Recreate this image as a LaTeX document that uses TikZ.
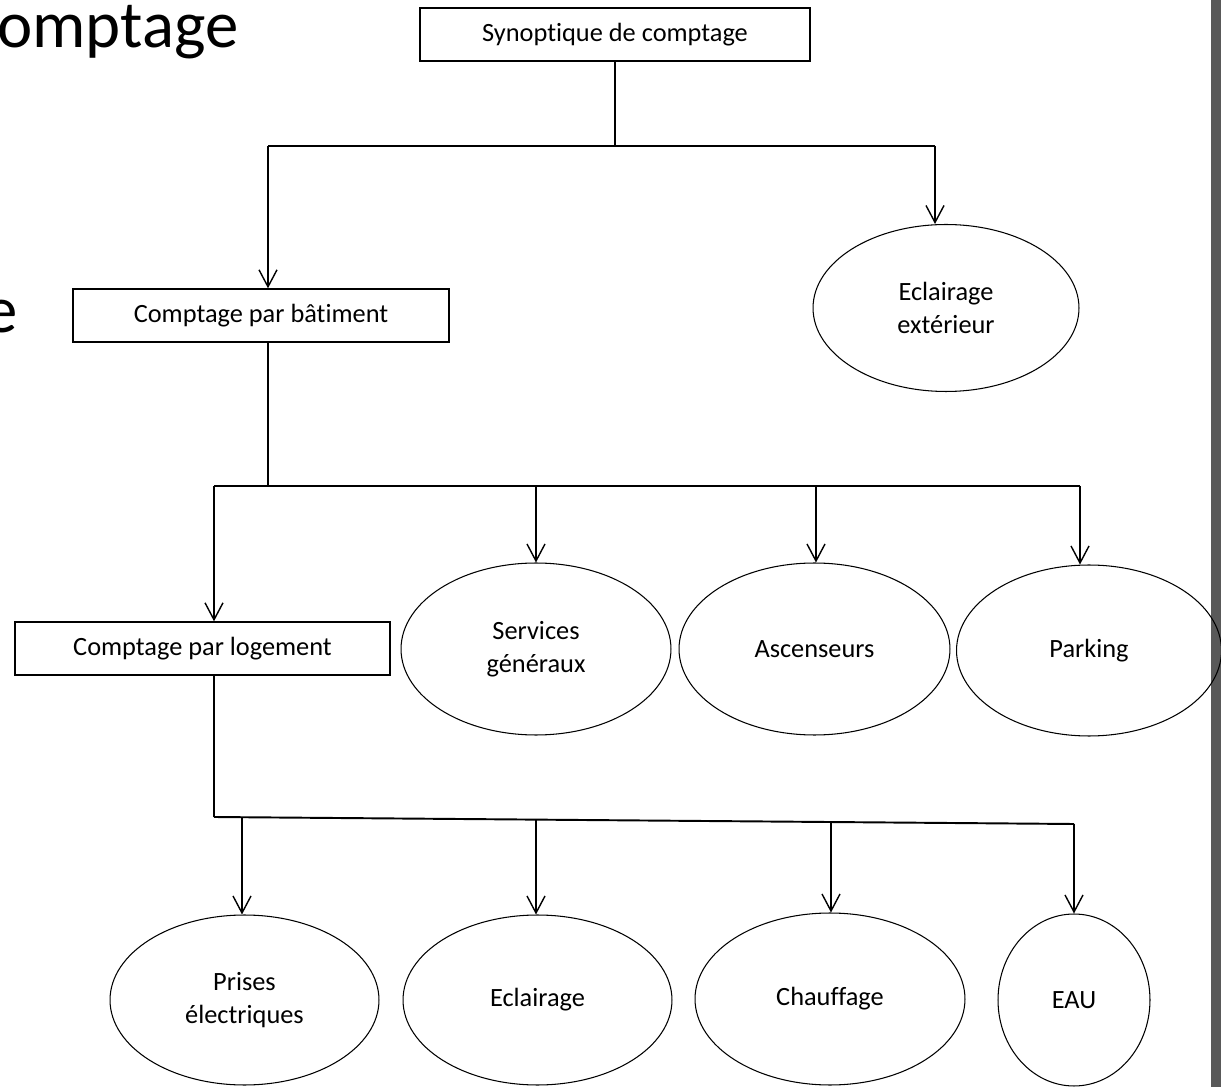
\documentclass[tikz,border=0pt]{standalone}
\usepackage{fontspec}
\setmainfont{Carlito}[Ligatures=NoCommon]
\usetikzlibrary{shapes.geometric, arrows.meta}

\definecolor{barGray}{HTML}{595959}
\newcommand{\diagfont}{\fontsize{15}{18.5}\selectfont}
\newcommand{\slidefont}{\fontsize{38}{44}\selectfont}

\begin{document}
\begin{tikzpicture}[
  x=0.02cm, y=-0.02cm,
  box/.style={rectangle, draw, line width=0.8pt, minimum height=1.06cm, inner sep=0pt, font=\diagfont},
  oval/.style={ellipse, draw, line width=0.6pt, inner sep=0pt, align=center, font=\diagfont},
  wire/.style={line width=1.1pt},
  arrow/.style={-{Straight Barb[length=3.4mm, width=3.6mm]}, line width=0.8pt},
  slide/.style={anchor=base west, inner sep=0pt, font=\slidefont}
]
\useasboundingbox (0,0) rectangle (1221,1087);

% Slide text cut by the page edge
\node[slide] (slideTitle) at (-3,48) {omptage};
\node[slide] (slideLine) at (-16,333) {e};

% Gray bar on the right
\fill[barGray] (1211,0) rectangle (1221,1087);

% Level 1
\node[box, minimum width=7.8cm] (syn) at (615,34.5) {Synoptique de comptage};
\node[box, minimum width=7.52cm] (bat) at (261,315.5) {Comptage par bâtiment};
\node[oval, minimum width=5.32cm, minimum height=3.34cm] (ext) at (946,308) {Eclairage\\extérieur};

% Bus under the synoptic box
\coordinate (busAL) at (268,146);
\coordinate (busAR) at (935,146);
\draw[wire] (syn.south) -- (syn.south |- busAL);
\draw[wire] (busAL) -- (busAR);
\draw[arrow] (busAL) -- (busAL |- bat.north);
\draw[arrow] (busAR) -- (busAR |- ext.north);

% Level 2
\node[box, minimum width=7.5cm] (log) at (202.5,648.5) {Comptage par logement};
\node[oval, minimum width=5.4cm, minimum height=3.44cm] (serv) at (536,649) {Services\\généraux};
\node[oval, minimum width=5.42cm, minimum height=3.44cm] (asc) at (814.5,649) {Ascenseurs};
\node[oval, minimum width=5.3cm, minimum height=3.42cm] (park) at (1089,650.5) {Parking};

% Bus under the building box
\coordinate (busBM) at (268,486);
\coordinate (busBL) at (214,486);
\coordinate (busBR) at (1080,486);
\coordinate (busB1) at (536,486);
\coordinate (busB2) at (816,486);
\draw[wire] (busBM |- bat.south) -- (busBM);
\draw[wire] (busBL) -- (busBR);
\draw[arrow] (busBL) -- (busBL |- log.north);
\draw[arrow] (busB1) -- (busB1 |- serv.north);
\draw[arrow] (busB2) -- (busB2 |- asc.north);
\draw[arrow] (busBR) -- (busBR |- park.north);

% Level 3
\node[oval, minimum width=5.38cm, minimum height=3.4cm] (prises) at (244.5,1000) {Prises\\électriques};
\node[oval, minimum width=5.38cm, minimum height=3.4cm] (ecl) at (537.5,1000) {Eclairage};
\node[oval, minimum width=5.4cm, minimum height=3.44cm] (chauf) at (830,999) {Chauffage};
\node[oval, minimum width=3.04cm, minimum height=3.44cm] (eau) at (1074,1000) {EAU};

% Bus under the dwelling box (slightly tilted)
\coordinate (busCL) at (214,817);
\coordinate (busCR) at (1074,824);
\coordinate (busC1) at (242,817.2);
\coordinate (busC2) at (536,819.6);
\coordinate (busC3) at (831,822);
\draw[wire] (busCL |- log.south) -- (busCL);
\draw[wire] (busCL) -- (busCR);
\draw[arrow] (busC1) -- (busC1 |- prises.north);
\draw[arrow] (busC2) -- (busC2 |- ecl.north);
\draw[arrow] (busC3) -- (busC3 |- chauf.north);
\draw[arrow] (busCR) -- (busCR |- eau.north);

\end{tikzpicture}
\end{document}
